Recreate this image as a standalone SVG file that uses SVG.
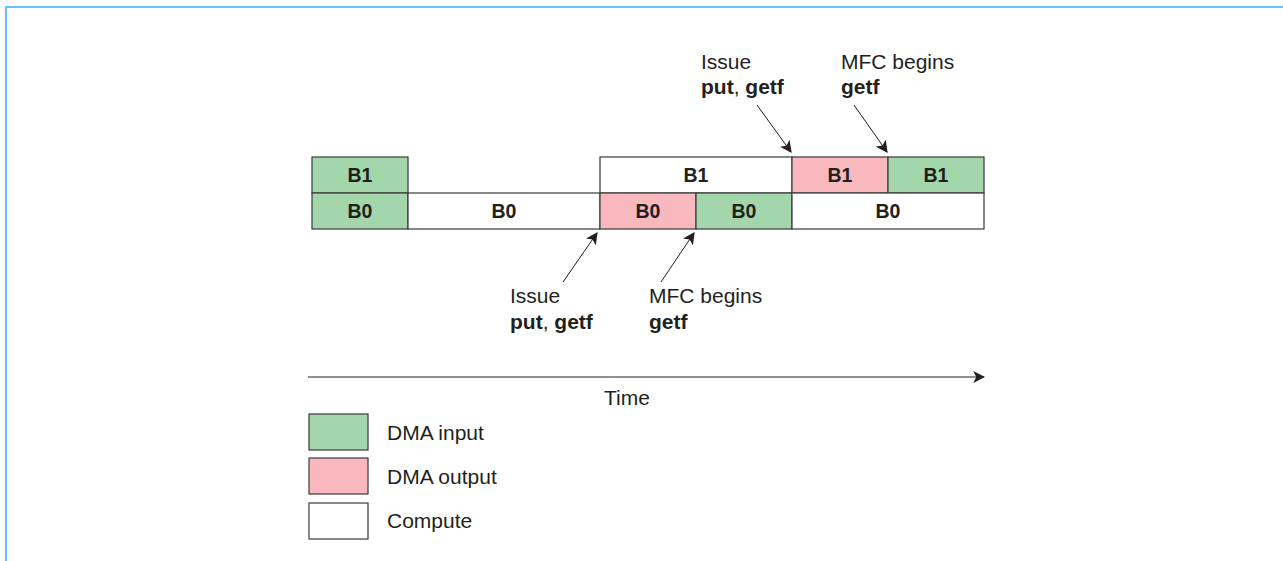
<svg xmlns="http://www.w3.org/2000/svg" width="1283" height="561" viewBox="0 0 1283 561">
<style>
.box{stroke:#3a3a3a;stroke-width:1.2}
.in{fill:#a3d6ab}
.out{fill:#f8b8be}
.cmp{fill:#ffffff}
.bl{font-family:"Liberation Sans",Arial,sans-serif;font-weight:bold;font-size:19.5px;fill:#231f20;text-anchor:middle}
.t{font-family:"Liberation Sans",Arial,sans-serif;font-size:21px;fill:#231f20}
.b{font-weight:bold}
.ln{stroke:#231f20;stroke-width:1;fill:none}
</style>
<defs>
<marker id="ah" viewBox="0 0 10 10" refX="9" refY="5" markerWidth="12" markerHeight="12" markerUnits="userSpaceOnUse" orient="auto">
<path d="M0,0 L10,5 L0,10 L2.5,5 Z" fill="#231f20"/>
</marker>
</defs>
<rect width="1283" height="561" fill="#ffffff"/>
<path d="M6,561 V7 H1283" fill="none" stroke="#66c0ff" stroke-width="2"/>
<g id="row-b1">
<rect class="box in" x="312" y="157" width="96" height="36"/>
<text class="bl" x="360" y="182">B1</text>
<rect class="box cmp" x="600" y="157" width="192" height="36"/>
<text class="bl" x="696" y="182">B1</text>
<rect class="box out" x="792" y="157" width="96" height="36"/>
<text class="bl" x="840" y="182">B1</text>
<rect class="box in" x="888" y="157" width="96" height="36"/>
<text class="bl" x="936" y="182">B1</text>
</g>
<g id="row-b0">
<rect class="box in" x="312" y="193" width="96" height="36"/>
<text class="bl" x="360" y="218">B0</text>
<rect class="box cmp" x="408" y="193" width="192" height="36"/>
<text class="bl" x="504" y="218">B0</text>
<rect class="box out" x="600" y="193" width="96" height="36"/>
<text class="bl" x="648" y="218">B0</text>
<rect class="box in" x="696" y="193" width="96" height="36"/>
<text class="bl" x="744" y="218">B0</text>
<rect class="box cmp" x="792" y="193" width="192" height="36"/>
<text class="bl" x="888" y="218">B0</text>
</g>
<g id="connectors">
<line class="ln" x1="757" y1="105" x2="791" y2="152" marker-end="url(#ah)"/>
<line class="ln" x1="854" y1="105" x2="887" y2="152" marker-end="url(#ah)"/>
<line class="ln" x1="563" y1="282" x2="597" y2="233" marker-end="url(#ah)"/>
<line class="ln" x1="661" y1="282" x2="694" y2="233" marker-end="url(#ah)"/>
<line class="ln" x1="308" y1="377" x2="984" y2="377" marker-end="url(#ah)"/>
</g>
<g id="label-top-issue">
<text class="t" x="701" y="69">Issue</text>
<text class="t" x="701" y="94"><tspan class="b">put</tspan>, <tspan class="b">getf</tspan></text>
</g>
<g id="label-top-mfc">
<text class="t" x="841" y="69">MFC begins</text>
<text class="t b" x="841" y="94">getf</text>
</g>
<g id="label-bot-issue">
<text class="t" x="510" y="303">Issue</text>
<text class="t" x="510" y="329"><tspan class="b">put</tspan>, <tspan class="b">getf</tspan></text>
</g>
<g id="label-bot-mfc">
<text class="t" x="649" y="303">MFC begins</text>
<text class="t b" x="649" y="329">getf</text>
</g>
<text class="t" x="627" y="405" text-anchor="middle">Time</text>
<g id="legend">
<rect class="box in" x="309" y="414" width="59" height="36"/>
<text class="t" x="387" y="440">DMA input</text>
<rect class="box out" x="309" y="458" width="59" height="36"/>
<text class="t" x="387" y="484">DMA output</text>
<rect class="box cmp" x="309" y="503" width="59" height="36"/>
<text class="t" x="387" y="528">Compute</text>
</g>
</svg>
